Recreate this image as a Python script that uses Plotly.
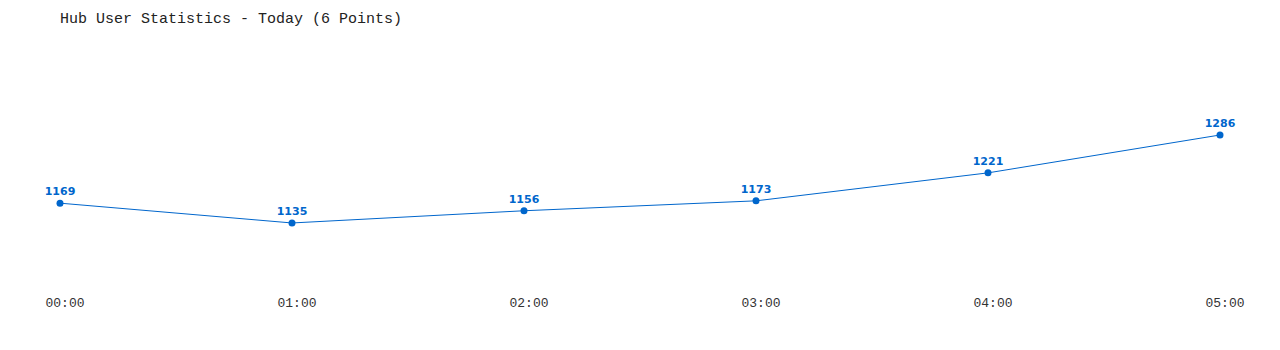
import plotly.graph_objects as go

categories = ["00:00", "01:00", "02:00", "03:00", "04:00", "05:00"]
values = [1169, 1135, 1156, 1173, 1221, 1286]
title_text = "Hub User Statistics - Today (6 Points)"

xs = list(range(len(categories)))
blue = "#0066cc"

fig = go.Figure()
fig.add_trace(go.Scatter(
    x=xs, y=values, mode="lines+markers+text",
    line=dict(color=blue, width=1),
    marker=dict(color=blue, size=7),
    text=[str(v) for v in values],
    textposition="top center",
    textfont=dict(family="DejaVu Sans, Verdana", size=11, color=blue, weight="bold"),
    cliponaxis=False,
    hoverinfo="x+y",
))

fig.update_layout(
    width=1280, height=350,
    margin=dict(l=60, r=60, t=40, b=60),
    paper_bgcolor="white", plot_bgcolor="white",
    showlegend=False,
    title=dict(text=title_text, x=60/1280, xanchor="left", y=1-18/350, yanchor="middle",
               font=dict(family="Liberation Mono, Courier New, monospace", size=15, color="#222")),
    xaxis=dict(range=[0, 5], tickmode="array", tickvals=xs, ticktext=categories,
               showgrid=False, zeroline=False, showline=False, ticks="",
               ticklabelshift=5, ticklabelstandoff=3,
               tickfont=dict(family="Liberation Mono, Courier New, monospace", size=13, color="#333")),
    yaxis=dict(range=[1020, 1449], visible=False, showgrid=False, zeroline=False),
)

fig.write_html("out.html")
